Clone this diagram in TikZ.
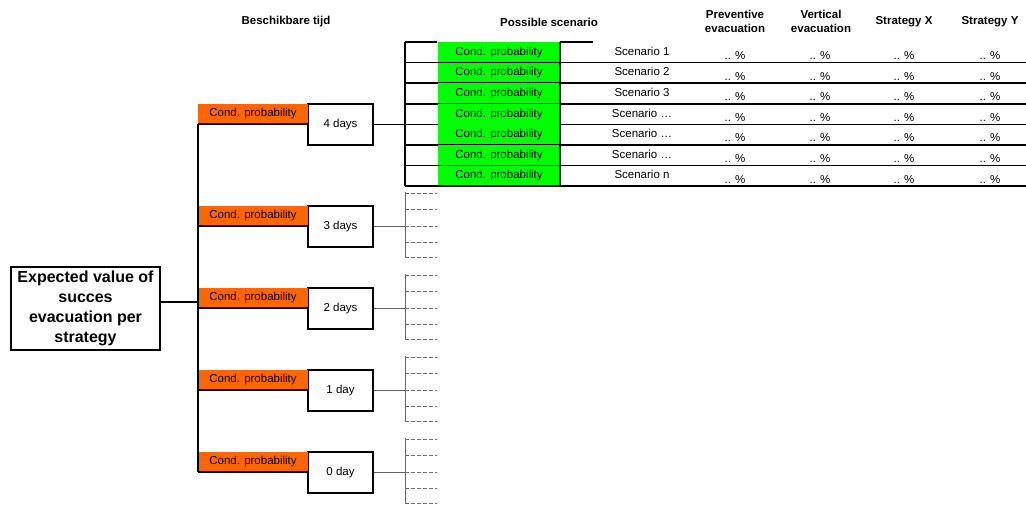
\documentclass[tikz,border=0pt]{standalone}
\usepackage{fontspec}
\setmainfont{Liberation Sans}
\usepackage{tikz}
\usetikzlibrary{positioning, calc}
\definecolor{condorange}{RGB}{255,102,0}
\definecolor{condgreen}{RGB}{0,255,0}
\definecolor{stubgrey}{RGB}{110,110,110}
\definecolor{linkgrey}{RGB}{100,100,100}
\tikzstyle{expbox} = [rectangle, draw, line width=2.2pt, minimum width=149pt, minimum height=83pt, inner sep=0pt, align=center, font=\fontsize{16}{20}\selectfont\bfseries]
\tikzstyle{condbox} = [rectangle, fill=condorange, minimum width=110pt, minimum height=20pt, inner sep=0pt, font=\fontsize{11.5}{13}\selectfont]
\tikzstyle{daybox} = [rectangle, draw, line width=1.6pt, fill=white, minimum width=65pt, minimum height=41pt, inner sep=0pt, font=\fontsize{11.5}{13}\selectfont]
\tikzstyle{greencell} = [rectangle, fill=condgreen, minimum width=122pt, minimum height=20.6pt, inner sep=0pt, font=\fontsize{11.5}{13}\selectfont]
\tikzstyle{cell} = [inner sep=0pt, font=\fontsize{11.5}{13}\selectfont]
\tikzstyle{header} = [align=center, inner sep=0pt, font=\fontsize{11.5}{14}\selectfont\bfseries]
\tikzstyle{gridline} = [line width=1.7pt]
\tikzstyle{linkline} = [linkgrey, line width=1pt]
\tikzstyle{stubline} = [linkgrey, line width=1pt]
\tikzstyle{stub} = [stubgrey, line width=0.9pt, dash pattern=on 4pt off 2pt]

\begin{document}
\begin{tikzpicture}[x=1pt, y=-1pt]
    \useasboundingbox (0,0) rectangle (1026,510);

    % Headers
    \node[header] (tijd_title) at (286, 22) {Beschikbare tijd};
    \node[header] (scen_title) at (549, 22) {Possible scenario};
    \node[header] (prev_title) at (735, 21) {Preventive\\evacuation};
    \node[header] (vert_title) at (821, 21) {Vertical\\evacuation};
    \node[header] (stratx_title) at (904, 22) {Strategy X};
    \node[header] (straty_title) at (990, 22) {Strategy Y};

    % Root
    \node[expbox] (exp) at (85.5, 308.5) {Expected value of\\succes\\evacuation per\\strategy};
    \coordinate (trunk) at (198, 302);

    % Available time
    \node[daybox] (day4) at (340.5, 124.5) {4 days};
    \node[daybox] (day3) at (340.5, 226.5) {3 days};
    \node[daybox] (day2) at (340.5, 308.5) {2 days};
    \node[daybox] (day1) at (340.5, 390.5) {1 day};
    \node[daybox] (day0) at (340.5, 472.5) {0 day};

    \node[condbox] (cond4) at (253, 114) {Cond. probability};
    \node[condbox] (cond3) at (253, 216) {Cond. probability};
    \node[condbox] (cond2) at (253, 298) {Cond. probability};
    \node[condbox] (cond1) at (253, 380) {Cond. probability};
    \node[condbox] (cond0) at (253, 462) {Cond. probability};

    \draw[gridline] (trunk -| exp.east) -- (trunk);
    \draw[gridline] (cond4.south west) -- (cond0.south west);
    \draw[gridline] (cond4.south west) -- (cond4.south east);
    \draw[gridline] (cond3.south west) -- (cond3.south east);
    \draw[gridline] (cond2.south west) -- (cond2.south east);
    \draw[gridline] (cond1.south west) -- (cond1.south east);
    \draw[gridline] (cond0.south west) -- (cond0.south east);

    % Scenario table for 4 days
    \coordinate (tbl) at (405, 42);
    \coordinate (tblmid) at (560, 42);
    \foreach \i/\scen in {1/Scenario 1, 2/Scenario 2, 3/Scenario 3, 4/Scenario …, 5/Scenario …, 6/Scenario …, 7/Scenario n} {
        \node[greencell] (green\i) at (499, 42+20.6*\i-10.3) {Cond. probability};
        \node[cell] (scen\i) at (642, 42+20.6*\i-11.5) {\scen};
        \foreach \x in {735, 820, 904, 990}
            \node[cell, anchor=base] (pct\i\x) at (\x, 42+20.6*\i-3) {.. \%};
        \draw[gridline] (405, 42+20.6*\i) -- (1026, 42+20.6*\i);
    }
    \draw[gridline] (tbl) -- ++(32, 0);
    \draw[gridline] (tblmid) -- ++(33, 0);
    \draw[gridline] (tbl) -- ++(0, 144.2);
    \draw[gridline] (tblmid) -- ++(0, 144.2);
    \draw[gridline] (day4.east) -- (day4.east -| tbl);

    % Empty branches
    \foreach \d/\yc in {3/226.5, 2/308.5, 1/390.5, 0/472.5} {
        \coordinate (stub\d) at (405, \yc);
        \draw[linkline] (day\d.east) -- (stub\d);
        \draw[stubline] (405, \yc-34) -- (405, \yc+32);
        \foreach \o in {-33, -17, 0, 16, 31}
            \draw[stub] (405, \yc+\o) -- (437, \yc+\o);
    }

\end{tikzpicture}
\end{document}
